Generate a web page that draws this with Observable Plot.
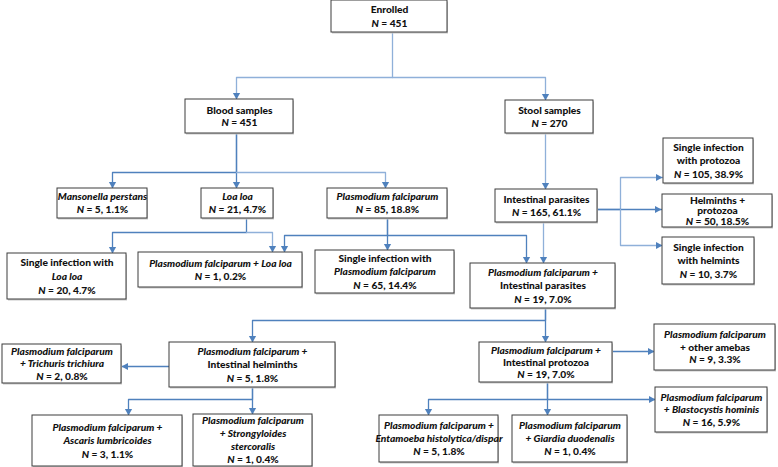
<!DOCTYPE html>
<html>
<head>
<meta charset="utf-8">
<script src="https://cdn.jsdelivr.net/npm/d3@7"></script>
<script src="https://cdn.jsdelivr.net/npm/@observablehq/plot@0.6"></script>
<style>
  html, body { margin: 0; padding: 0; background: #ffffff; }
  #chart { width: 778px; height: 467px; }
</style>
</head>
<body>
<div id="chart"></div>
<script>
// ---- Data: node labels (markup: _..._ = italic), counts and percentages ----
const nodeLabels = [
  ["Enrolled"],
  ["Blood samples"],
  ["Stool samples"],
  ["_Mansonella perstans_"],
  ["_Loa loa_"],
  ["_Plasmodium falciparum_"],
  ["Intestinal parasites"],
  ["Single infection", "with protozoa"],
  ["Helminths +", "protozoa"],
  ["Single infection", "with helmints"],
  ["Single infection with", "_Loa loa_"],
  ["_Plasmodium falciparum + Loa loa_"],
  ["Single infection with", "_Plasmodium falciparum_"],
  ["_Plasmodium falciparum +_", "Intestinal parasites"],
  ["_Plasmodium falciparum +_", "Intestinal helminths"],
  ["_Plasmodium falciparum_", "_+ Trichuris trichiura_"],
  ["_Plasmodium falciparum +_", "_Ascaris lumbricoides_"],
  ["_Plasmodium falciparum_", "_+ Strongyloides_", "_stercoralis_"],
  ["_Plasmodium falciparum +_", "Intestinal protozoa"],
  ["_Plasmodium falciparum_", "+ other amebas"],
  ["_Plasmodium falciparum_", "_+ Blastocystis hominis_"],
  ["_Plasmodium falciparum +_", "_Entamoeba histolytica/dispar_"],
  ["_Plasmodium falciparum_", "_+ Giardia duodenalis_"]
];
const nodeCounts = [451, 451, 270, 5, 21, 85, 165, 105, 50, 10, 20, 1, 65, 19, 5, 2, 3, 1, 19, 9, 16, 5, 1];
const nodePercents = [null, null, null, "1.1", "4.7", "18.8", "61.1", "38.9", "18.5", "3.7", "4.7", "0.2", "14.4", "7.0", "1.8", "0.8", "1.1", "0.4", "7.0", "3.3", "5.9", "1.8", "0.4"];

// ---- Flowchart layout (box corners in px, line height) ----
const boxLayout = [
  [331, 0, 447, 32, 14],
  [185, 99, 293, 133, 12.5],
  [505, 100, 593, 133, 12.5],
  [57, 188, 147, 218, 13],
  [201, 188, 273, 218, 13],
  [327, 188, 447, 218, 13],
  [495, 189, 597, 222, 13],
  [663, 138, 753, 183, 13.5],
  [662, 194, 772, 227, 10.5],
  [662, 237, 754, 284, 13.5],
  [7, 253, 126, 299, 14],
  [138, 252, 302, 287, 13],
  [315, 250, 454, 293, 13.5],
  [470, 263, 615, 308, 13.5],
  [169, 342, 335, 387, 13.5],
  [2, 344, 121, 383, 12.5],
  [32, 415, 182, 466, 13.5],
  [193, 414, 312, 466, 13],
  [479, 342, 612, 382, 12],
  [654, 324, 775, 370, 12.5],
  [655, 387, 767, 432, 12.5],
  [379, 415, 498, 462, 13],
  [512, 415, 627, 462, 13]
];
const dark = "#4f81bd", light = "#8fb0d9";
const edgeLayout = [
  {from: 0, to: 1, c: light, p: [[392,32],[392,77],[236,77],[236,99]]},
  {from: 0, to: 2, c: light, p: [[392,77],[545,77],[545,100]]},
  {from: 1, to: 3, c: dark, p: [[236,133],[236,172],[112,172],[112,188]]},
  {from: 1, to: 4, c: dark, p: [[236,133],[236,188]]},
  {from: 1, to: 5, c: light, p: [[236,172],[385,172],[385,188]]},
  {from: 2, to: 6, c: light, p: [[545,133],[545,189]]},
  {from: 6, to: 7, c: light, p: [[597,209],[620,209],[620,177],[662,177]]},
  {from: 6, to: 8, c: dark, p: [[597,209],[661,209]]},
  {from: 6, to: 9, c: light, p: [[620,209],[620,245],[662,245]]},
  {from: 4, to: 10, c: dark, p: [[246,218],[246,232],[112,232],[112,253]]},
  {from: 4, to: 11, c: light, p: [[246,232],[272,232],[272,252]]},
  {from: 5, to: 11, c: dark, p: [[387,218],[387,235],[284,235],[284,252]]},
  {from: 5, to: 12, c: dark, p: [[387,218],[387,250]]},
  {from: 5, to: 13, c: dark, p: [[387,235],[526,235],[526,263]]},
  {from: 6, to: 13, c: light, p: [[543,222],[543,263]]},
  {from: 13, to: 14, c: dark, p: [[545,308],[545,320],[252,320],[252,342]]},
  {from: 13, to: 18, c: dark, p: [[545,308],[545,342]]},
  {from: 14, to: 15, c: dark, p: [[169,366],[121,366]]},
  {from: 14, to: 16, c: dark, p: [[252,387],[252,399],[128,399],[128,415]]},
  {from: 14, to: 17, c: dark, p: [[252,387],[252,414]]},
  {from: 18, to: 19, c: dark, p: [[612,351],[654,351]]},
  {from: 18, to: 21, c: dark, p: [[547,382],[547,399],[428,399],[428,415]]},
  {from: 18, to: 22, c: dark, p: [[547,382],[547,415]]},
  {from: 18, to: 20, c: dark, p: [[547,399],[655,399]]}
];

// ---- Build tables for the marks ----
const boxes = boxLayout.map(([x1, y1, x2, y2, lh], i) => ({id: i, x1, y1, x2, y2, lh}));
const textRows = [];
boxes.forEach((b, i) => {
  const pct = nodePercents[i];
  const lines = [...nodeLabels[i], "_N_ = " + nodeCounts[i] + (pct == null ? "" : ", " + pct + "%")];
  const cx = (b.x1 + b.x2) / 2, cy = (b.y1 + b.y2) / 2, n = lines.length;
  lines.forEach((t, k) => textRows.push({x: cx, y: cy + (k - (n - 1) / 2) * b.lh, text: t}));
});
const segPts = [];
const triPts = [];
edgeLayout.forEach((e, i) => {
  e.p.forEach(([x, y]) => segPts.push({id: i, x, y, c: e.c}));
  const [ax, ay] = e.p[e.p.length - 2], [bx, by] = e.p[e.p.length - 1];
  const len = Math.hypot(bx - ax, by - ay), ux = (bx - ax) / len, uy = (by - ay) / len;
  const L = 6.5, W = 3.6;
  triPts.push({id: i, x: bx, y: by});
  triPts.push({id: i, x: bx - ux * L - uy * W, y: by - uy * L + ux * W});
  triPts.push({id: i, x: bx - ux * L + uy * W, y: by - uy * L - ux * W});
});

const font = "Lato, 'Open Sans', sans-serif";
const chart = Plot.plot({
  width: 778,
  height: 467,
  margin: 0,
  style: {background: "#ffffff", overflow: "visible"},
  x: {domain: [0, 778], range: [0, 778], axis: null},
  y: {domain: [0, 467], range: [0, 467], axis: null},
  marks: [
    Plot.line(segPts, {x: "x", y: "y", z: "id", stroke: "c", strokeWidth: 1.3, curve: "linear"}),
    Plot.line(triPts, {x: "x", y: "y", z: "id", stroke: "none", fill: dark, curve: "linear-closed"}),
    Plot.rect(boxes, {x1: d => d.x1 + 1, y1: d => d.y1 + 1.5, x2: d => d.x2 + 1, y2: d => d.y2 + 1.5, fill: "#c8c8c8"}),
    Plot.rect(boxes, {x1: "x1", y1: "y1", x2: "x2", y2: "y2", fill: "#ffffff", stroke: "#3c3c3c", strokeWidth: 1}),
    Plot.text(textRows, {x: "x", y: "y", text: "text", fontSize: 10.2, fontWeight: 900, fontFamily: font, fill: "#111111"})
  ]
});
chart.setAttribute("font-family", font);
// Apply italic spans (_..._ markup) inside each label
const NS = "http://www.w3.org/2000/svg";
chart.querySelectorAll("text").forEach(t => {
  const s = t.textContent;
  if (!s.includes("_")) return;
  while (t.firstChild) t.removeChild(t.firstChild);
  s.split("_").forEach((seg, i) => {
    if (!seg) return;
    const ts = document.createElementNS(NS, "tspan");
    ts.textContent = seg;
    if (i % 2 === 1) ts.setAttribute("font-style", "italic");
    t.appendChild(ts);
  });
});
document.getElementById("chart").appendChild(chart);
</script>
</body>
</html>
